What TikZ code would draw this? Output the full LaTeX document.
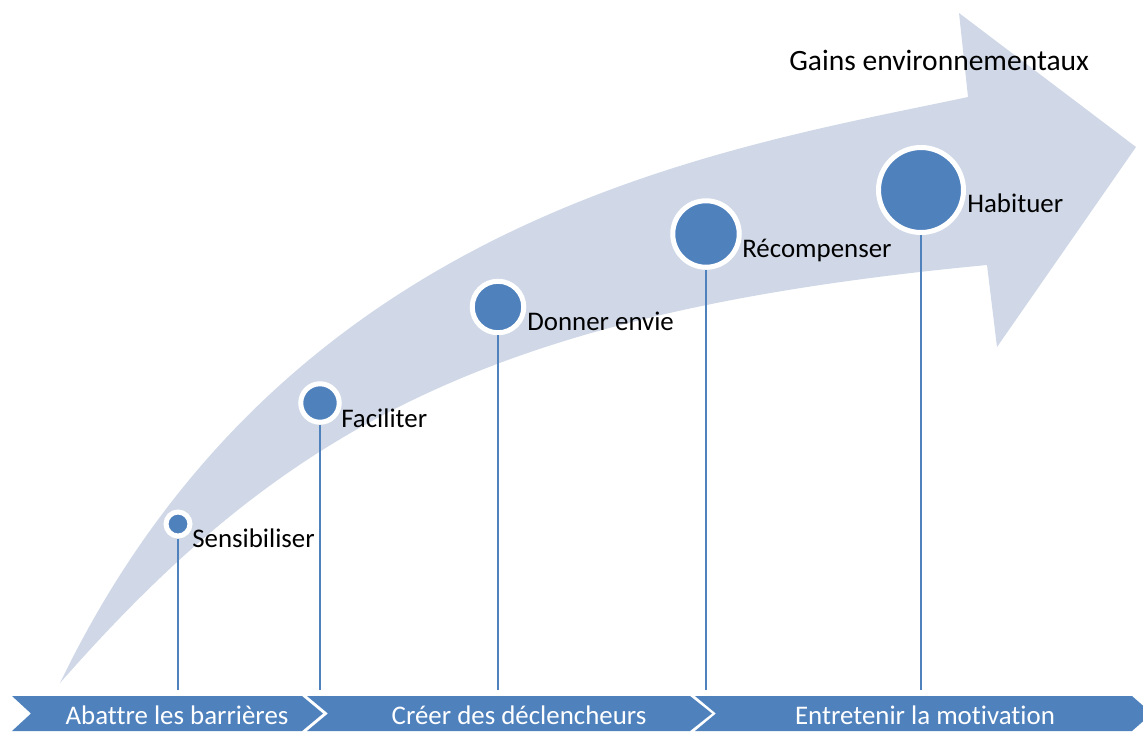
\documentclass[tikz,border=0pt]{standalone}
\usepackage{fontspec}
\setmainfont[Ligatures=NoCommon]{Carlito}
\usetikzlibrary{positioning}
\definecolor{StepBlue}{HTML}{4F81BD}
\definecolor{ArrowGray}{HTML}{D0D8E8}

\begin{document}
\begin{tikzpicture}
          [
          x=0.02cm, y=-0.02cm,
          Dot/.style={circle, fill=StepBlue, draw=white, line width=1mm, inner sep=0pt},
          Label/.style={anchor=base west, inner sep=0pt, font=\fontsize{15.3}{18}\selectfont},
          Phase/.style={anchor=base, text=white, inner sep=0pt, font=\fontsize{15.3}{18}\selectfont},
          Stem/.style={draw=StepBlue, line width=0.4mm},
          ]
          \useasboundingbox (0,0) rectangle (1143,731);

          % Big arrow
          \fill[ArrowGray] (60,683) .. controls (286,214) and (723,149) .. (968,97)
            -- (959,13) -- (1136,147) -- (997,347) -- (987,265)
            .. controls (490,312) and (284,428) .. (60,683) -- cycle;

          % Chevrons
          \fill[StepBlue] (12,696) -- (302,696) -- (323,713.5) -- (302,731) -- (12,731) -- (31,713.5) -- cycle;
          \fill[StepBlue] (307,696) -- (690,696) -- (712,713.5) -- (690,731) -- (307,731) -- (328,713.5) -- cycle;
          \fill[StepBlue] (695,696) -- (1132,696) -- (1152,713.5) -- (1132,731) -- (695,731) -- (716,713.5) -- cycle;
          \node[Phase] (Barrier) at (177,724) {Abattre les barrières};
          \node[Phase] (Trigger) at (519,724) {Créer des déclencheurs};
          \node[Phase] (Motiv) at (925,724) {Entretenir la motivation};

          % Steps
          \node[Dot, minimum size=0.48cm] (Sens) at (178,524) {};
          \node[Dot, minimum size=0.77cm] (Faci) at (320,403) {};
          \node[Dot, minimum size=1.03cm] (Envie) at (498,307) {};
          \node[Dot, minimum size=1.33cm] (Recomp) at (706,234) {};
          \node[Dot, minimum size=1.70cm] (Habit) at (921,190) {};

          \node[Label] (SensText) at (192,547) {Sensibiliser};
          \node[Label] (FaciText) at (341,427) {Faciliter};
          \node[Label] (EnvieText) at (527,330) {Donner envie};
          \node[Label] (RecompText) at (742,257) {Récompenser};
          \node[Label] (HabitText) at (967,212) {Habituer};
          \node[Label, font=\fontsize{16.8}{20}\selectfont] (Gains) at (789,70) {Gains environnementaux};

          % Lines
          \coordinate (Base) at (0,690);
          \foreach \n in {Sens, Faci, Envie, Recomp, Habit}
            \path [Stem] (\n.south) -- (\n.south |- Base);

\end{tikzpicture}
\end{document}
